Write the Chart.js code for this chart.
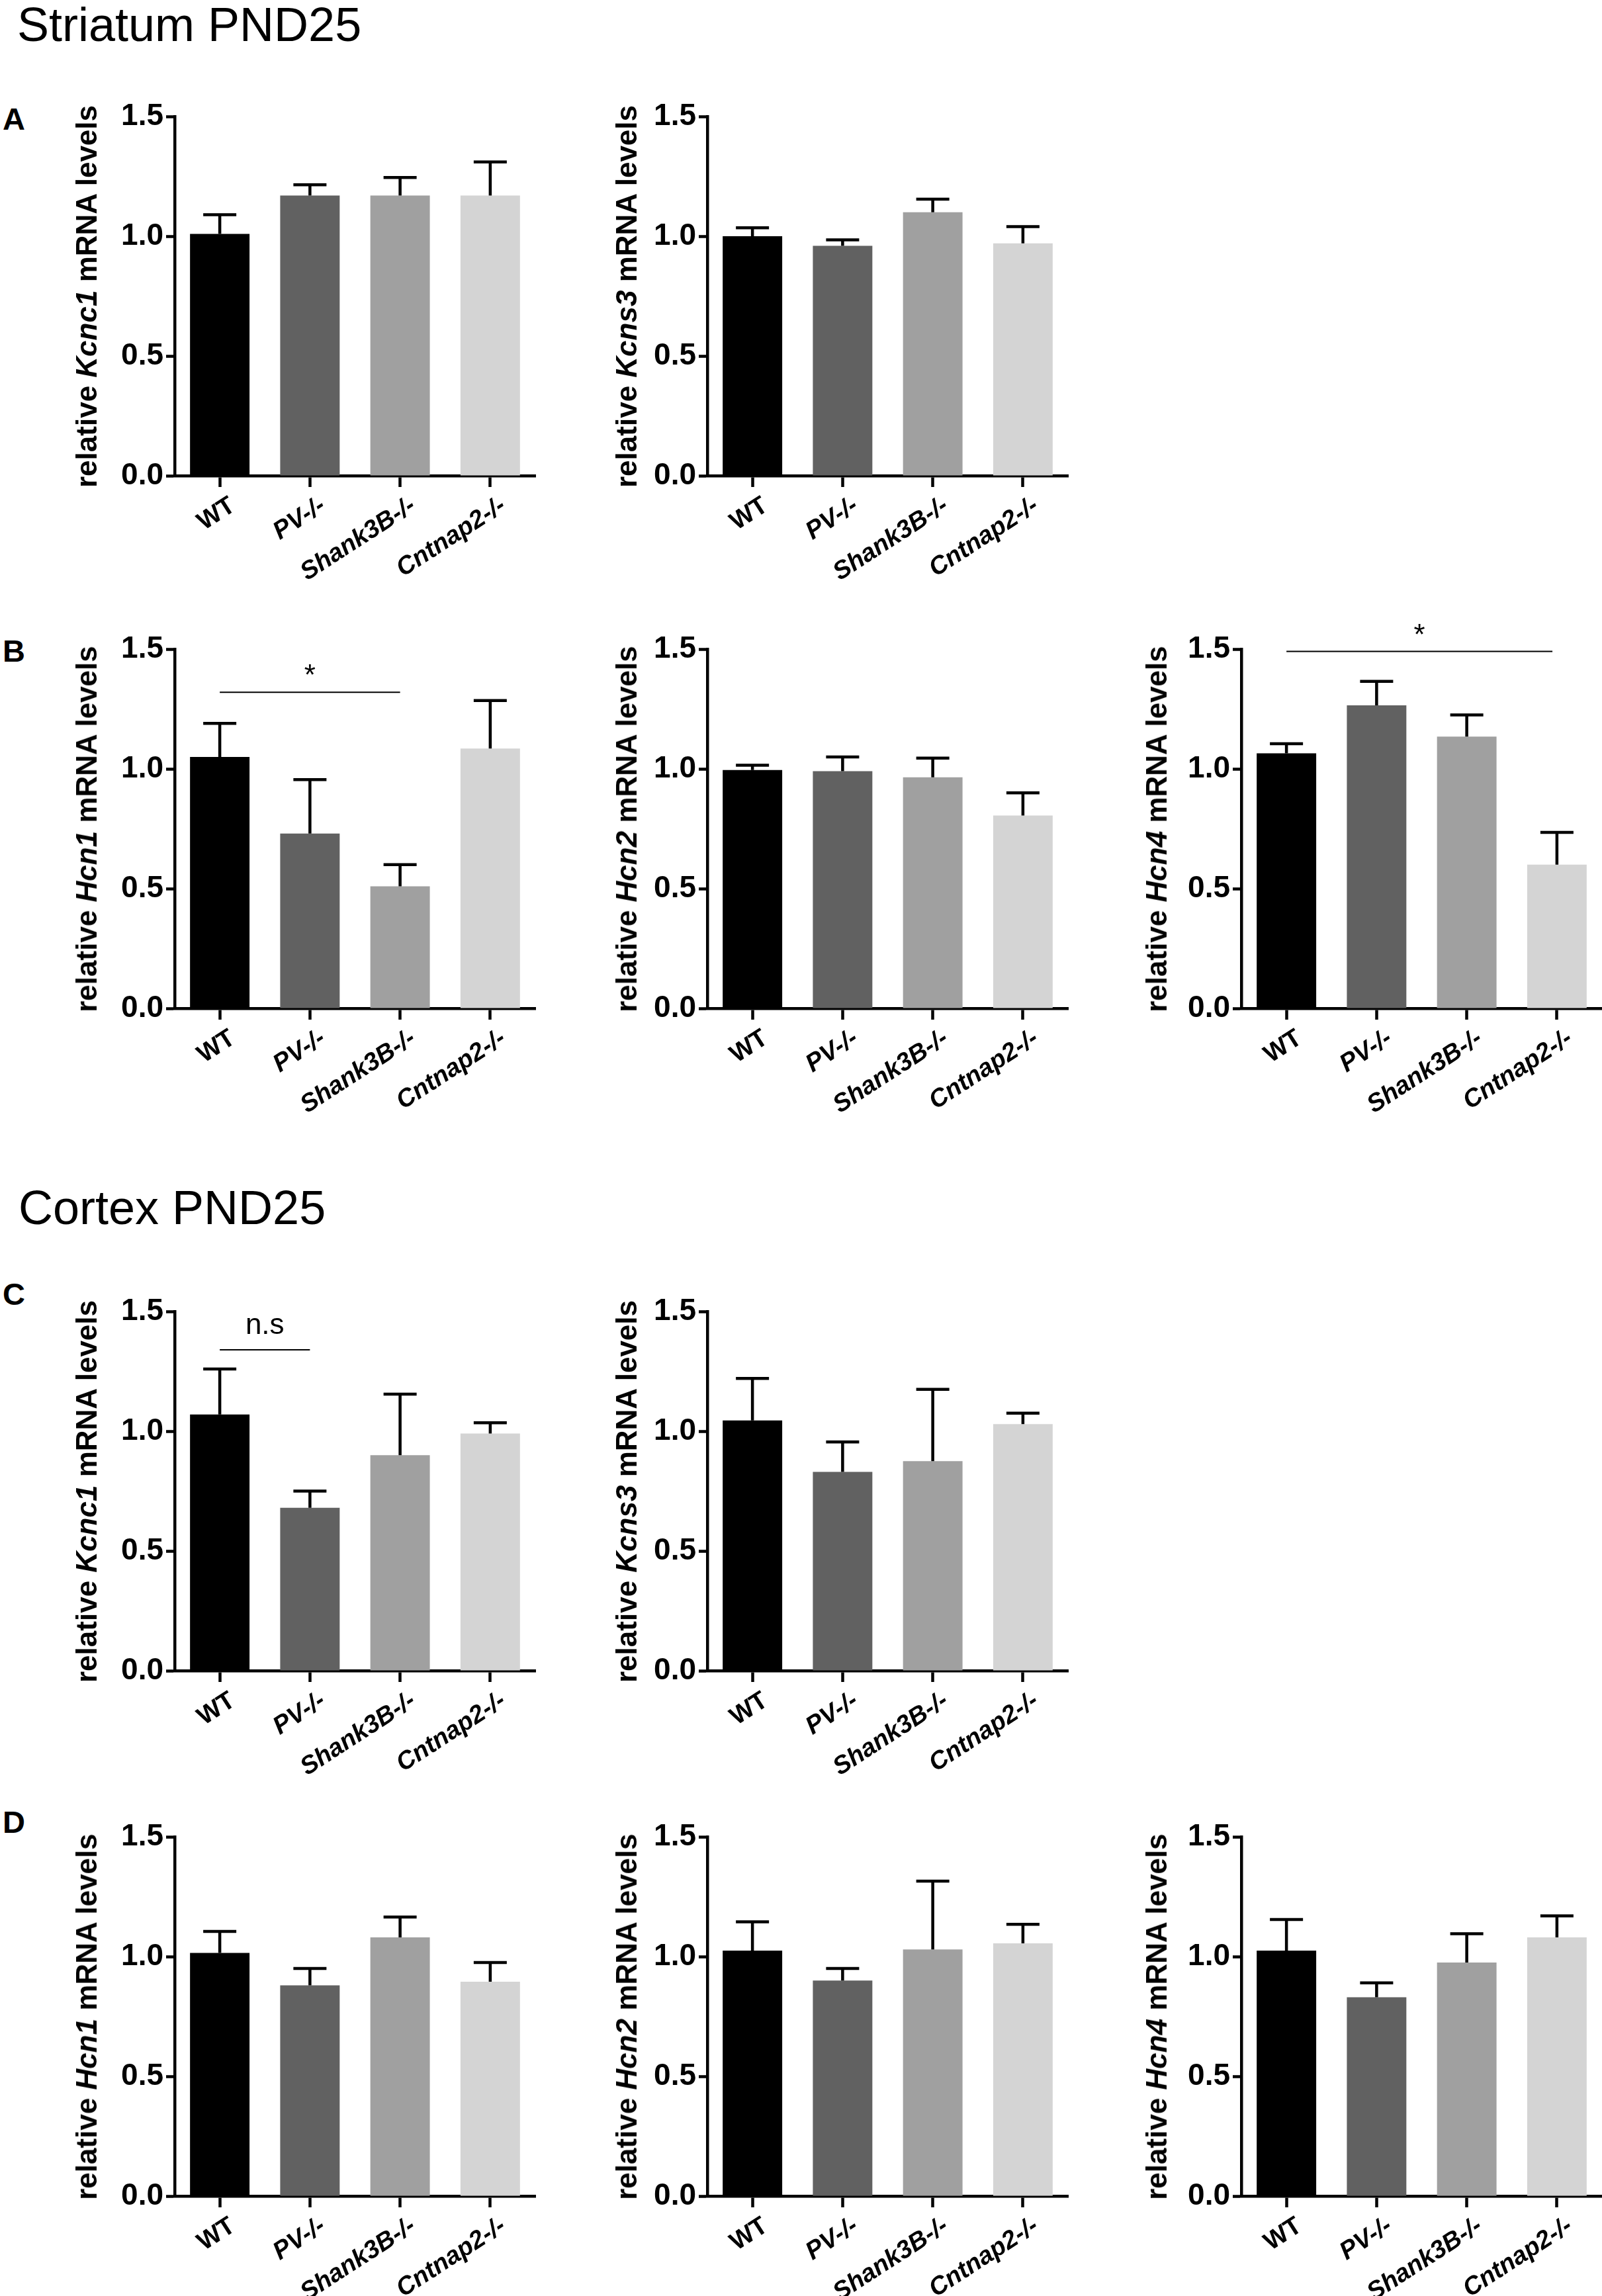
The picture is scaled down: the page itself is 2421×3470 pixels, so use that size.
<!DOCTYPE html>
<html lang="en">

<head>
    <meta charset="UTF-8">
    <title>Striatum / Cortex PND25</title>
    <style>
        html, body { margin: 0; padding: 0; background: #fff; overflow: hidden; }
        body { width: 2421px; height: 3470px; position: relative; font-family: "Liberation Sans", Arial, sans-serif; color: #000; }
        .section { position: absolute; font-size: 72px; line-height: 72px; white-space: nowrap; }
        .letter { position: absolute; font-size: 47px; line-height: 47px; font-weight: bold; }
        .ytitle { position: absolute; font-size: 44px; line-height: 44px; font-weight: bold; white-space: nowrap;
                  transform: translate(-50%, -50%) rotate(-90deg); }
        canvas { position: absolute; }
    </style>
</head>

<body>
    <div class="section" style="left:26px; top:1px">Striatum PND25</div>
    <div class="section" style="left:28px; top:1789px">Cortex PND25</div>

    <div class="letter" style="left:4px; top:156px">A</div>
    <div class="letter" style="left:4px; top:960px">B</div>
    <div class="letter" style="left:4px; top:1932px">C</div>
    <div class="letter" style="left:4px; top:2730px">D</div>

    <div id="plots"></div>

    <script src="https://cdn.jsdelivr.net/npm/chart.js@4.4.1/dist/chart.umd.min.js"></script>
    <script>
        // groups on the x axis
        const groups = ['WT', 'PV-/-', 'Shank3B-/-', 'Cntnap2-/-'];
        const barColors = ['#000000', '#616161', '#a0a0a0', '#d4d4d4'];
        const yTicks = [0, 0.5, 1.0, 1.5];

        // striatum PND25 (mean, SEM)
        const strKcnc1 = [1.01, 1.17, 1.17, 1.17];
        const strKcnc1Err = [0.08, 0.045, 0.075, 0.14];
        const strKcns3 = [1.00, 0.96, 1.10, 0.97];
        const strKcns3Err = [0.035, 0.025, 0.055, 0.07];
        const strHcn1 = [1.05, 0.73, 0.51, 1.085];
        const strHcn1Err = [0.14, 0.225, 0.09, 0.20];
        const strHcn2 = [0.995, 0.99, 0.965, 0.805];
        const strHcn2Err = [0.02, 0.06, 0.08, 0.095];
        const strHcn4 = [1.065, 1.265, 1.135, 0.60];
        const strHcn4Err = [0.04, 0.10, 0.09, 0.135];

        // cortex PND25 (mean, SEM)
        const ctxKcnc1 = [1.07, 0.68, 0.90, 0.99];
        const ctxKcnc1Err = [0.19, 0.07, 0.255, 0.045];
        const ctxKcns3 = [1.045, 0.83, 0.875, 1.03];
        const ctxKcns3Err = [0.175, 0.125, 0.30, 0.045];
        const ctxHcn1 = [1.015, 0.88, 1.08, 0.895];
        const ctxHcn1Err = [0.09, 0.07, 0.085, 0.08];
        const ctxHcn2 = [1.025, 0.90, 1.03, 1.055];
        const ctxHcn2Err = [0.12, 0.05, 0.285, 0.08];
        const ctxHcn4 = [1.025, 0.83, 0.975, 1.08];
        const ctxHcn4Err = [0.13, 0.06, 0.12, 0.09];

        // significance brackets: [from group, to group, y value, text]
        const strHcn1Sig = [0, 2, 1.32, '*'];
        const strHcn4Sig = [0, 2.95, 1.49, '*'];
        const ctxKcnc1Sig = [0, 1, 1.34, 'n.s'];

        // layout (page pixels)
        const colAxis = [264, 1069, 1876];
        const titleShift = [133, 122, 128];
        const rowTop = [176, 981, 1982, 2776];
        const plotW = 545, plotH = 543;
        const padL = 200, padT = 100, padB = 200, padR = 4;

        const panels = [
            { row: 0, col: 0, gene: 'Kcnc1', data: strKcnc1, err: strKcnc1Err },
            { row: 0, col: 1, gene: 'Kcns3', data: strKcns3, err: strKcns3Err },
            { row: 1, col: 0, gene: 'Hcn1', data: strHcn1, err: strHcn1Err, sig: strHcn1Sig },
            { row: 1, col: 1, gene: 'Hcn2', data: strHcn2, err: strHcn2Err },
            { row: 1, col: 2, gene: 'Hcn4', data: strHcn4, err: strHcn4Err, sig: strHcn4Sig },
            { row: 2, col: 0, gene: 'Kcnc1', data: ctxKcnc1, err: ctxKcnc1Err, sig: ctxKcnc1Sig },
            { row: 2, col: 1, gene: 'Kcns3', data: ctxKcns3, err: ctxKcns3Err },
            { row: 3, col: 0, gene: 'Hcn1', data: ctxHcn1, err: ctxHcn1Err },
            { row: 3, col: 1, gene: 'Hcn2', data: ctxHcn2, err: ctxHcn2Err },
            { row: 3, col: 2, gene: 'Hcn4', data: ctxHcn4, err: ctxHcn4Err }
        ];

        Chart.defaults.font.family = '"Liberation Sans", Arial, sans-serif';
        Chart.defaults.color = '#000';

        // SEM bars, upward only, with a cap
        const errorBars = {
            id: 'errorBars',
            afterDatasetsDraw(chart) {
                const ctx = chart.ctx;
                const y = chart.scales.y;
                const ds = chart.data.datasets[0];
                const meta = chart.getDatasetMeta(0);
                ctx.save();
                ctx.strokeStyle = '#000';
                ctx.lineWidth = 4.5;
                meta.data.forEach((bar, i) => {
                    const top = y.getPixelForValue(ds.data[i] + ds.errors[i]);
                    ctx.beginPath();
                    ctx.moveTo(bar.x, bar.y);
                    ctx.lineTo(bar.x, top);
                    ctx.moveTo(bar.x - 25, top);
                    ctx.lineTo(bar.x + 25, top);
                    ctx.stroke();
                });
                ctx.restore();
            }
        };

        function sigPlugin(sig) {
            return {
                id: 'sig',
                afterDraw(chart) {
                    if (!sig) return;
                    const ctx = chart.ctx;
                    const x1 = chart.scales.x.getPixelForValue(sig[0]);
                    const x2 = chart.scales.x.getPixelForValue(sig[1]);
                    const yy = chart.scales.y.getPixelForValue(sig[2]);
                    ctx.save();
                    ctx.strokeStyle = '#000';
                    ctx.lineWidth = 2;
                    ctx.beginPath();
                    ctx.moveTo(x1, yy);
                    ctx.lineTo(x2, yy);
                    ctx.stroke();
                    ctx.fillStyle = '#000';
                    ctx.textAlign = 'center';
                    ctx.textBaseline = 'alphabetic';
                    ctx.font = '44px "Liberation Sans", Arial, sans-serif';
                    ctx.fillText(sig[3], (x1 + x2) / 2, yy - (sig[3] === '*' ? 11 : 24));
                    ctx.restore();
                }
            };
        }

        const holder = document.getElementById('plots');

        panels.forEach(p => {
            const left = colAxis[p.col] - padL;
            const top = rowTop[p.row] - padT;

            const canvas = document.createElement('canvas');
            canvas.width = padL + plotW + padR;
            canvas.height = padT + plotH + padB;
            canvas.style.left = left + 'px';
            canvas.style.top = top + 'px';
            canvas.style.width = canvas.width + 'px';
            canvas.style.height = canvas.height + 'px';
            holder.appendChild(canvas);

            const title = document.createElement('div');
            title.className = 'ytitle';
            title.style.left = (colAxis[p.col] - titleShift[p.col]) + 'px';
            title.style.top = (rowTop[p.row] + plotH / 2) + 'px';
            title.innerHTML = 'relative <i>' + p.gene + '</i> mRNA levels';
            holder.appendChild(title);

            new Chart(canvas.getContext('2d'), {
                type: 'bar',
                data: {
                    labels: groups,
                    datasets: [{
                        data: p.data,
                        errors: p.err,
                        backgroundColor: barColors,
                        borderWidth: 0,
                        barPercentage: 0.66,
                        categoryPercentage: 1
                    }]
                },
                options: {
                    responsive: false,
                    animation: false,
                    devicePixelRatio: 1,
                    layout: { padding: { top: padT, right: padR, left: 0, bottom: 0 } },
                    plugins: { legend: { display: false }, tooltip: { enabled: false } },
                    scales: {
                        x: {
                            offset: true,
                            grid: { offset: false, drawOnChartArea: false, tickLength: 17, tickWidth: 4.5, color: '#000' },
                            border: { display: true, width: 4.5, color: '#000' },
                            ticks: {
                                autoSkip: false,
                                maxRotation: 33,
                                minRotation: 33,
                                padding: 6,
                                labelOffset: 20,
                                font: c => ({ size: 38, weight: 'bold', style: c.index === 0 ? 'normal' : 'italic' })
                            },
                            afterFit: a => { a.height = padB; }
                        },
                        y: {
                            min: 0,
                            max: 1.5,
                            afterBuildTicks: a => { a.ticks = yTicks.map(v => ({ value: v })); },
                            grid: { drawOnChartArea: false, tickLength: 13, tickWidth: 4.5, color: '#000' },
                            border: { display: true, width: 4.5, color: '#000' },
                            ticks: {
                                padding: 4,
                                font: { size: 46, weight: 'bold' },
                                callback: v => Number(v).toFixed(1)
                            },
                            afterFit: a => { a.width = padL; }
                        }
                    }
                },
                plugins: [errorBars, sigPlugin(p.sig)]
            });
        });
    </script>
</body>

</html>
